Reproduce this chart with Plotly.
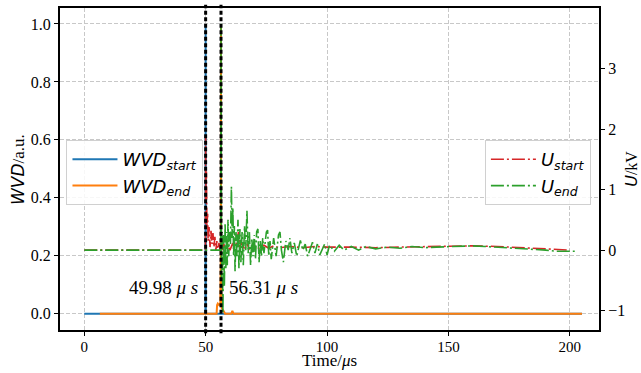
import plotly.graph_objects as go

# ---- data ----
t_wvd_start = [0, 49.9, 49.98, 50.06, 205]
wvd_start = [0, 0, 1.0, 0, 0]

t_wvd_end = [6.4, 54.5, 54.7, 55.0, 55.5, 56.0, 56.25, 56.31, 56.37, 56.6, 57.0, 57.5, 58.0, 60.5, 61.0, 61.5, 205]
wvd_end = [0, 0, 0.03, 0.035, 0.03, 0.035, 0.2, 1.0, 0.1, 0.02, 0.012, 0.008, 0, 0, 0.01, 0, 0]

t_u_start = [0, 49.9, 49.98, 50.1, 50.3, 50.5, 50.8, 51.0, 51.4, 51.8, 52.2, 52.6, 53.0, 53.4, 53.8, 54.2,
             54.6, 55.0, 55.5, 56.0, 56.5, 57, 57.5, 58, 59, 60, 61, 62, 63, 63.5, 64, 65, 66, 67, 68,
             70, 72, 74, 76, 78, 80, 85, 90, 95, 100, 110, 120, 130, 140, 150, 160, 170, 180, 190, 200]
u_start = [0.0, 0.0, 1.9, 0.9, 1.3, 0.4, 0.6, 0.15, 0.38, 0.05, 0.32, 0.1, 0.28, 0.05, 0.22, 0.0,
           0.15, 0.02, 0.12, -0.02, 0.08, 0.0, 0.1, 0.02, 0.08, 0.0, 0.1, 0.05, 0.15, 0.3, 0.05, 0.12, 0.0, 0.1, 0.02,
           0.08, 0.03, 0.08, 0.03, 0.07, 0.04, 0.06, 0.04, 0.06, 0.05, 0.05, 0.04, 0.05, 0.06, 0.06, 0.07, 0.06, 0.04, 0.03, 0.0]

t_u_end = [0, 56.2, 56.31, 56.5, 56.8, 57.1, 57.4, 57.7, 58.0, 58.3, 58.6, 58.9, 59.2, 59.5, 59.8, 60.2,
           60.6, 60.9, 61.2, 61.5, 61.8, 62.1, 62.5, 62.9, 63.3, 63.7, 64.1, 64.5, 65.0, 65.5, 66.0, 66.5,
           67.0, 67.5, 68.0, 68.5, 69.0, 69.5, 70.0, 70.5, 71.0, 71.5, 72.0, 72.5, 73, 73.5, 74, 75, 75.5,
           76, 76.5, 77, 78, 79, 80, 80.6, 81.2, 82, 83, 84, 84.7, 85.5, 86.5, 87.5, 89, 90, 91, 92, 94, 95,
           96, 97, 99, 100, 101, 103, 105, 107, 110, 113, 116, 120, 125, 130, 135, 140, 145, 150, 160, 165,
           170, 180, 190, 195, 202]
u_end = [0.0, 0.0, 3.74, -0.5, 0.3, -1.05, 0.25, -0.6, 0.45, -0.3, 0.3, -0.25, 0.5, -0.1, 0.3, 0.1,
         1.05, 0.2, 0.7, -0.1, 0.4, -0.35, 0.3, -0.1, 0.5, -0.3, 0.35, -0.2, 0.3, -0.25, 0.4, 0.0,
         0.65, -0.05, 0.3, -0.25, 0.2, -0.1, 0.25, -0.15, 0.3, 0.35, -0.2, 0.15, -0.1, 0.2, -0.05, 0.3, 0.33,
         -0.1, 0.15, -0.15, 0.2, -0.1, 0.25, 0.3, 0.0, -0.2, 0.15, 0.0, 0.2, -0.05, 0.12, -0.1, 0.16, 0.0,
         0.1, -0.1, 0.13, -0.05, 0.1, -0.08, 0.1, -0.08, 0.08, -0.02, 0.08, 0.0, 0.06, 0.0, 0.06, 0.02,
         0.05, 0.03, 0.06, 0.04, 0.05, 0.06, 0.07, 0.06, 0.05, 0.02, 0.0, -0.02, -0.02]

t_marks = [49.98, 56.31]
mark_labels = ["49.98 <i>μ s</i>", "56.31 <i>μ s</i>"]

x_ticks = [0, 50, 100, 150, 200]
y_ticks = [0.0, 0.2, 0.4, 0.6, 0.8, 1.0]
y2_ticks = [-1, 0, 1, 2, 3]

BLUE, ORANGE, GREEN, RED = "#1f77b4", "#ff7f0e", "#2ca02c", "#d62728"
SERIF = "Liberation Serif"
SANS = "DejaVu Sans"
DASHDOT = "13px,3px,2px,3px"

fig = go.Figure()
fig.add_trace(go.Scatter(x=t_wvd_start, y=wvd_start, mode="lines", line=dict(color=BLUE, width=2),
                         name="<i>WVD</i><sub><i>start</i></sub>", legend="legend"))
fig.add_trace(go.Scatter(x=t_wvd_end, y=wvd_end, mode="lines", line=dict(color=ORANGE, width=2),
                         name="<i>WVD</i><sub><i>end</i></sub>", legend="legend"))
fig.add_trace(go.Scatter(x=t_u_start, y=u_start, mode="lines", yaxis="y2",
                         line=dict(color=RED, width=1.6, dash=DASHDOT),
                         name="<i>U</i><sub><i>start</i></sub>", legend="legend2"))
fig.add_trace(go.Scatter(x=t_u_end, y=u_end, mode="lines", yaxis="y2",
                         line=dict(color=GREEN, width=1.6, dash=DASHDOT),
                         name="<i>U</i><sub><i>end</i></sub>", legend="legend2"))

for tm in t_marks:
    fig.add_shape(type="line", xref="x", yref="paper", x0=tm, x1=tm, y0=-0.01, y1=1.01,
                  line=dict(color="black", width=3, dash="4px,2.5px"), layer="above")

fig.add_annotation(x=t_marks[0] - 2.5, y=0.09, xref="x", yref="y", text=mark_labels[0],
                   showarrow=False, xanchor="right", yanchor="middle",
                   font=dict(family=SERIF, size=19, color="black"))
fig.add_annotation(x=t_marks[1] + 2.5, y=0.09, xref="x", yref="y", text=mark_labels[1],
                   showarrow=False, xanchor="left", yanchor="middle",
                   font=dict(family=SERIF, size=19, color="black"))

# axis titles as annotations for exact placement
fig.add_annotation(x=0.5, y=-0.094, xref="paper", yref="paper", text="Time/<i>μ</i>s",
                   showarrow=False, xanchor="center", yanchor="middle",
                   font=dict(family=SERIF, size=17, color="black"))
fig.add_annotation(x=-0.078, y=0.5, xref="paper", yref="paper",
                   text="<span style='font-family:DejaVu Sans'><i>WVD</i></span>/a.u.",
                   showarrow=False, xanchor="center", yanchor="middle", textangle=-90,
                   font=dict(family=SERIF, size=17, color="black"))
fig.add_annotation(x=1.059, y=0.5, xref="paper", yref="paper",
                   text="<span style='font-family:DejaVu Sans'><i>U</i></span>/kV",
                   showarrow=False, xanchor="center", yanchor="middle", textangle=-90,
                   font=dict(family=SERIF, size=16, color="black"))

grid = dict(showgrid=True, gridcolor="#c8c8c8", gridwidth=1, griddash="4px,2px")
tickfont = dict(family=SERIF, size=16, color="black")
fig.update_layout(
    width=641, height=373,
    font=dict(family=SERIF, color="black"),
    margin=dict(l=60, r=42, t=8, b=43, autoexpand=False),
    plot_bgcolor="white", paper_bgcolor="white",
    xaxis=dict(range=[-10, 212], tickvals=x_ticks, ticks="outside", ticklen=4, tickwidth=1,
               tickcolor="black", showline=True, linecolor="black", linewidth=2, mirror=True,
               zeroline=False, automargin=False, tickfont=dict(family=SERIF, size=15, color="black"),
               ticklabelstandoff=-2, **grid),
    yaxis=dict(range=[-0.056, 1.055], tickvals=y_ticks, tickformat=".1f", ticks="outside", ticklen=4,
               tickcolor="black", showline=True, linecolor="black", linewidth=2, zeroline=False,
               automargin=False, tickfont=tickfont, **grid),
    yaxis2=dict(range=[-1.32, 4.0], tickvals=y2_ticks, overlaying="y", side="right", ticks="outside",
                ticklen=4, tickcolor="black", showline=True, linecolor="black", linewidth=2,
                showgrid=False, zeroline=False, automargin=False, tickfont=tickfont),
    legend=dict(x=0.012, y=0.59, xanchor="left", yanchor="top", bgcolor="rgba(255,255,255,0.85)",
                bordercolor="#d0d0d0", borderwidth=1, font=dict(family=SANS, size=18, color="black"),
                tracegroupgap=0, itemwidth=45),
    legend2=dict(x=0.985, y=0.59, xanchor="right", yanchor="top", bgcolor="rgba(255,255,255,0.85)",
                 bordercolor="#d0d0d0", borderwidth=1, font=dict(family=SANS, size=18, color="black"),
                 tracegroupgap=0, itemwidth=45),
    showlegend=True,
)

fig.write_html("out.html")
